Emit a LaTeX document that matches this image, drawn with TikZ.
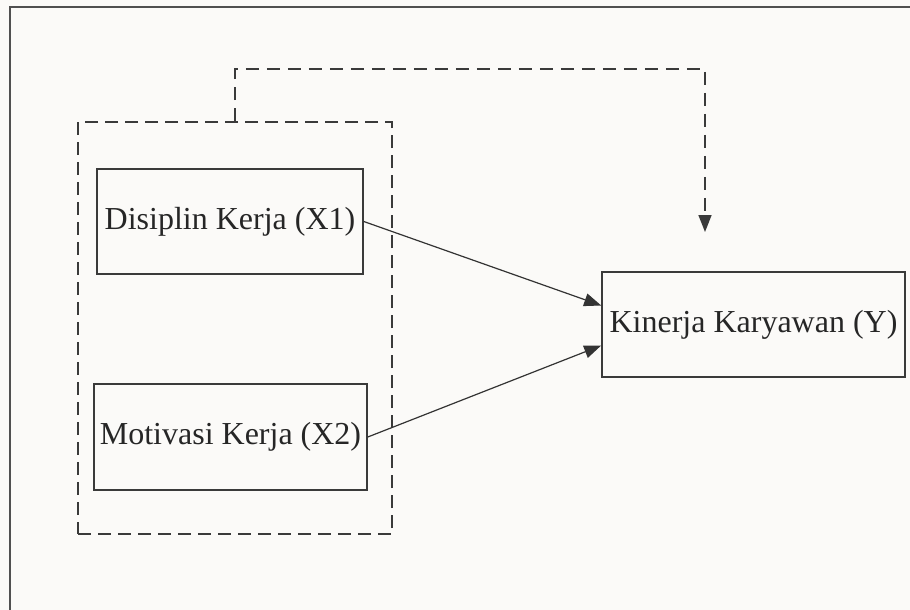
\documentclass[tikz,border=0pt]{standalone}
\usepackage{fontspec}
\setmainfont{Liberation Serif}
\usetikzlibrary{arrows.meta,calc}
\definecolor{bg}{HTML}{FBFAF8}
\definecolor{ink}{HTML}{3A3A3A}
\definecolor{frame}{HTML}{505050}
\begin{document}
\begin{tikzpicture}[x=1pt,y=-1pt,
  varbox/.style={draw=ink,line width=1.6pt,inner sep=0pt,font=\fontsize{32}{38}\selectfont,text=black!85,text height=20pt,text depth=5pt},
  grpbox/.style={draw=ink,line width=1.6pt,dash pattern=on 13pt off 7pt,inner sep=0pt},
  arr/.style={draw=black!80,line width=1.2pt,-{Triangle[length=17pt,width=13pt]}},
  darr/.style={draw=ink,line width=1.6pt,dash pattern=on 13pt off 8pt,-{Triangle[length=17pt,width=13pt]}}]
\useasboundingbox (0,0) rectangle (910,610);
\fill[bg] (0,0) rectangle (910,610);
\begin{scope}
\clip (0,0) rectangle (910,610);
\draw[frame,line width=2.2pt] (10,7) rectangle (930,630);
\end{scope}
\node[grpbox,minimum width=314pt,minimum height=412pt] (grp) at (235,328) {};
\node[varbox,minimum width=266pt,minimum height=105pt] (x1) at (230,221.5) {Disiplin Kerja (X1)};
\node[varbox,minimum width=273pt,minimum height=106pt] (x2) at (230.5,437) {Motivasi Kerja (X2)};
\node[varbox,minimum width=303pt,minimum height=105pt] (y) at (753.5,324.5) {Kinerja Karyawan (Y)};
\coordinate (yin1) at ($(y.west)+(0,-19)$);
\coordinate (yin2) at ($(y.west)+(0,21)$);
\coordinate (dend) at (705,232);
\draw[arr] (x1.east) -- (yin1);
\draw[arr] (x2.east) -- (yin2);
\draw[darr] (grp.north) -- (grp.north |- 0,69) -- (705,69) -- (dend);
\end{tikzpicture}
\end{document}
